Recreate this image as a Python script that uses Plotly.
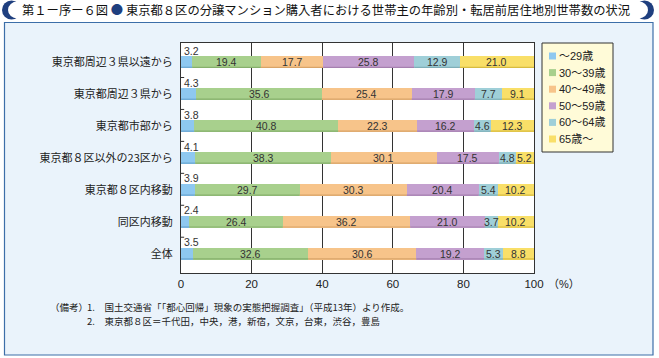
import plotly.graph_objects as go
import numpy as np

categories = ["東京都周辺３県以遠から", "東京都周辺３県から", "東京都市部から",
              "東京都８区以外の23区から", "東京都８区内移動", "同区内移動", "全体"]
series_names = ["～29歳", "30～39歳", "40～49歳", "50～59歳", "60～64歳", "65歳～"]
age_29 = [3.2, 4.3, 3.8, 4.1, 3.9, 2.4, 3.5]
age_30_39 = [19.4, 35.6, 40.8, 38.3, 29.7, 26.4, 32.6]
age_40_49 = [17.7, 25.4, 22.3, 30.1, 30.3, 36.2, 30.6]
age_50_59 = [25.8, 17.9, 16.2, 17.5, 20.4, 21.0, 19.2]
age_60_64 = [12.9, 7.7, 4.6, 4.8, 5.4, 3.7, 5.3]
age_65 = [21.0, 9.1, 12.3, 5.2, 10.2, 10.2, 8.8]
x_ticks = [0, 20, 40, 60, 80, 100]

series = [age_29, age_30_39, age_40_49, age_50_59, age_60_64, age_65]
colors = ["#8ec8f0", "#a8d08d", "#f7c48a", "#c4a0cf", "#9fcfd8", "#f9df68"]
edge = ["#6aa6d0", "#86b06c", "#d9a468", "#a680b0", "#7fafb8", "#d8bc40"]

W, H = 659, 358
L, R, T, B = 181, 534, 43, 273
def px(x):
    return (x - L) / (R - L)
def py(y):
    return (B - y) / (B - T)

FONT = "Liberation Sans, Noto Sans CJK JP"
pos = list(range(len(categories)))
bw = 0.36

fig = go.Figure()
for name, vals, c in zip(series_names, series, colors):
    fig.add_trace(go.Bar(
        y=pos, x=vals, name=name, orientation="h", width=bw,
        marker=dict(color=c, line=dict(width=0)),
        hoverinfo="x+name", showlegend=False,
    ))

annotations = []
shapes = []
# frame and backgrounds
shapes.append(dict(type="rect", xref="paper", yref="paper", layer="below",
                   x0=px(4.5), x1=px(653), y0=py(355), y1=py(22.5),
                   fillcolor="#eaf3fb", line=dict(color="#3c6ea8", width=1.2)))
shapes.append(dict(type="rect", xref="paper", yref="paper", layer="below",
                   x0=0, x1=1, y0=0, y1=1, fillcolor="white", line=dict(width=0)))
# title band ends
for (a, b) in [((2, 21), (8, 27)), ((635, 654), (629, 648))]:
    shapes.append(dict(type="circle", xref="paper", yref="paper", layer="below",
                       x0=px(a[0]), x1=px(a[1]), y0=py(19.5), y1=py(0.5),
                       fillcolor="#1f3f7f", line=dict(width=0)))
    shapes.append(dict(type="circle", xref="paper", yref="paper", layer="below",
                       x0=px(b[0]), x1=px(b[1]), y0=py(18.5), y1=py(1.5),
                       fillcolor="white", line=dict(width=0)))

# value labels and bar bottom edges
arr = np.array(series)
cums = np.cumsum(arr, axis=0)
for i in pos:
    for k in range(len(series)):
        v = arr[k, i]
        start = cums[k, i] - v
        shapes.append(dict(type="line", xref="x", yref="y", layer="above",
                           x0=start, x1=cums[k, i], y0=i + bw / 2 - 0.02, y1=i + bw / 2 - 0.02,
                           line=dict(color=edge[k], width=1.2)))
        if k == 0:
            annotations.append(dict(x=0, y=i - 0.36, xref="x", yref="y",
                                    text=f"{v:.1f}", showarrow=False, xanchor="left",
                                    yanchor="middle", xshift=1,
                                    font=dict(size=10.5, color="#333", family=FONT)))
            if i > 0:
                shapes.append(dict(type="line", xref="x", yref="y", layer="above",
                                   x0=0, x1=0.9, y0=i - 0.52, y1=i - 0.52,
                                   line=dict(color="#333", width=1)))
        else:
            annotations.append(dict(x=start + v / 2, y=i, xref="x", yref="y",
                                    text=f"{v:.1f}", showarrow=False,
                                    xanchor="center", yanchor="middle",
                                    font=dict(size=10.5, color="#333", family=FONT)))

# custom legend
shapes.append(dict(type="rect", xref="paper", yref="paper", layer="above",
                   x0=px(542), x1=px(613), y0=py(152), y1=py(43),
                   fillcolor="#fffbd8", line=dict(color="#333", width=1)))
for k, (name, c) in enumerate(zip(series_names, colors)):
    yc = 56 + k * 16.6
    shapes.append(dict(type="rect", xref="paper", yref="paper", layer="above",
                       x0=px(549), x1=px(556), y0=py(yc + 3.5), y1=py(yc - 3.5),
                       fillcolor=c, line=dict(width=0)))
    annotations.append(dict(x=px(557), y=py(yc), xref="paper", yref="paper",
                            text=name, showarrow=False, xanchor="left", yanchor="middle",
                            font=dict(size=11, color="#222", family=FONT)))

annotations.append(dict(x=px(20), y=py(10), xref="paper", yref="paper",
                        text="第１ー序ー６図 <span style='color:#1f3f7f'>●</span> 東京都８区の分譲マンション購入者における世帯主の年齢別・転居前居住地別世帯数の状況",
                        showarrow=False, xanchor="left", yanchor="middle",
                        font=dict(size=12.3, color="#111", family="Noto Sans CJK JP")))
annotations.append(dict(x=px(546), y=py(284), xref="paper", yref="paper",
                        text="（%）", showarrow=False, xanchor="left", yanchor="middle",
                        font=dict(size=11, color="#222", family=FONT)))
foot_font = dict(size=9.5, color="#222", family="Noto Sans CJK JP")
annotations.append(dict(x=px(48), y=py(307), xref="paper", yref="paper", text="（備考）",
                        showarrow=False, xanchor="left", yanchor="middle", font=foot_font))
annotations.append(dict(x=px(85), y=py(307), xref="paper", yref="paper",
                        text="1.　国土交通省「「都心回帰」現象の実態把握調査」（平成13年）より作成。",
                        showarrow=False, xanchor="left", yanchor="middle", font=foot_font))
annotations.append(dict(x=px(85), y=py(321), xref="paper", yref="paper",
                        text="2.　東京都８区＝千代田，中央，港，新宿，文京，台東，渋谷，豊島",
                        showarrow=False, xanchor="left", yanchor="middle", font=foot_font))

fig.update_layout(
    width=W, height=H, barmode="stack", bargap=0,
    margin=dict(l=L, r=W - R, t=T, b=H - B, pad=0),
    paper_bgcolor="white", plot_bgcolor="rgba(0,0,0,0)",
    font=dict(family=FONT, size=11, color="#222"),
    showlegend=False,
    xaxis=dict(range=[0, 100], tickvals=x_ticks, ticktext=[str(t) for t in x_ticks],
               showgrid=True, gridcolor="#333", gridwidth=1, zeroline=False,
               showline=True, linecolor="#333", linewidth=1, mirror=True,
               ticks="", tickfont=dict(size=11.5, color="#222")),
    yaxis=dict(range=[6.6, -0.6], tickvals=pos, ticktext=categories,
               showgrid=False, zeroline=False, showline=True, linecolor="#333",
               linewidth=1, mirror=True, ticks="", ticklabelstandoff=5,
               tickfont=dict(size=11, color="#222", family="Noto Sans CJK JP")),
    annotations=annotations, shapes=shapes,
)
fig.write_html("out.html", config={"displayModeBar": False},
               post_script="document.body.style.margin='0';document.body.style.overflow='hidden';")
